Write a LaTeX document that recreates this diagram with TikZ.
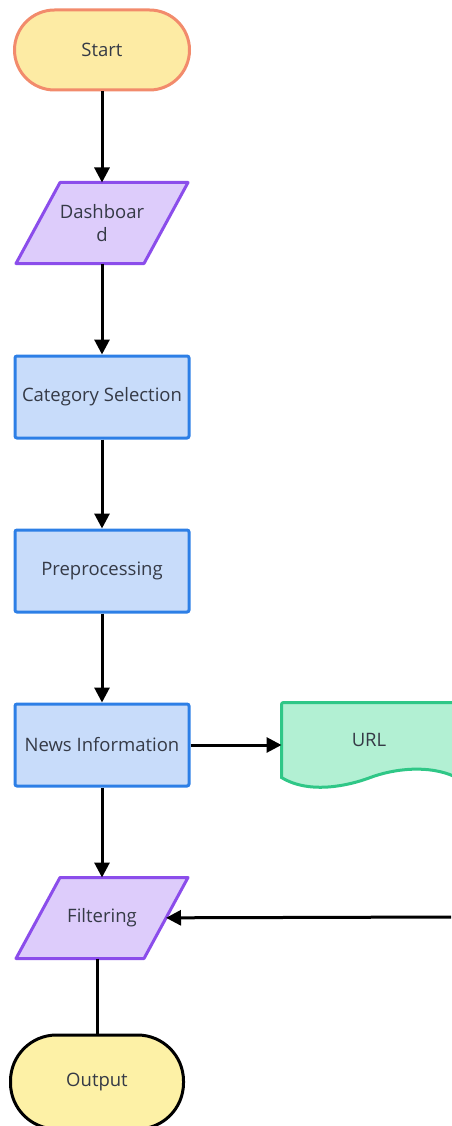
\documentclass[tikz,border=0pt]{standalone}
\usepackage{fontspec}
\setmainfont{Open Sans}
\usetikzlibrary{arrows.meta,backgrounds}

\definecolor{txt}{HTML}{353A46}
\definecolor{startfill}{HTML}{FDEBA4}
\definecolor{startline}{HTML}{F28B6C}
\definecolor{iofill}{HTML}{DDCCFB}
\definecolor{ioline}{HTML}{8B4DEB}
\definecolor{procfill}{HTML}{C8DCFA}
\definecolor{procline}{HTML}{2D7FE6}
\definecolor{urlfill}{HTML}{B2F0D3}
\definecolor{urlline}{HTML}{2FC787}
\definecolor{outfill}{HTML}{FDF1A6}

\begin{document}
\begin{tikzpicture}[x=1pt,y=-1pt,line width=3pt,
  every node/.style={font=\fontsize{18.5}{23}\selectfont,text=txt},
  flow/.style={-{Triangle[length=15pt,width=15pt]}},
  term/.style={draw,rounded corners=40pt,minimum width=175pt,minimum height=80pt},
  proc/.style={draw=procline,fill=procfill,rounded corners=2pt,minimum width=174pt,minimum height=82pt},
  io/.style={minimum width=125pt,minimum height=78pt,align=center},
  ioshape/.style={draw=ioline,fill=iofill,line width=3pt,line join=round}]
\useasboundingbox (0,0) rectangle (451,1126);
\clip (0,0) rectangle (451,1126);

\node[term,draw=startline,fill=startfill] (start) at (102,50) {Start};
\node[io] (dash) at (102,223) {Dashboar\\d};
\node[proc] (cat) at (102,397) {Category Selection};
\node[proc] (pre) at (102,571) {Preprocessing};
\node[proc] (news) at (102,745) {News Information};
\node[minimum width=172pt,minimum height=72pt] (url) at (369,740) {URL};
\node[io] (filt) at (102,918) {Filtering};
\node[term,draw=black,fill=outfill,rounded corners=46pt,minimum width=173pt,minimum height=94pt] (out) at (97,1082) {Output};
\coordinate (feed) at (455,917);

% shapes behind the texts
\begin{scope}[on background layer]
\foreach \n in {dash,filt}
  \draw[ioshape] ([xshift=-22pt]\n.south west) -- ([xshift=-22pt]\n.south east)
    -- ([xshift=22pt]\n.north east) -- ([xshift=22pt]\n.north west) -- cycle;
\draw[draw=urlline,fill=urlfill,line width=3pt,rounded corners=2pt] (url.south west) -- (url.north west) -- (url.north east)
  -- (url.south east) [sharp corners] .. controls (430,765) and (395,768) .. (369,778)
  .. controls (350,785) and (310,795) .. (url.south west) -- cycle;
\end{scope}

\draw[flow] (start) -- (dash);
\draw[flow] (dash) -- (cat);
\draw[flow] (cat) -- (pre);
\draw[flow] (pre) -- (news);
\draw[flow] (news) -- (url.west |- news);
\draw[flow] (news) -- (filt);
\draw[flow] (feed) -- (filt);
\draw (out |- filt.south) -- (out.north);
\end{tikzpicture}
\end{document}
